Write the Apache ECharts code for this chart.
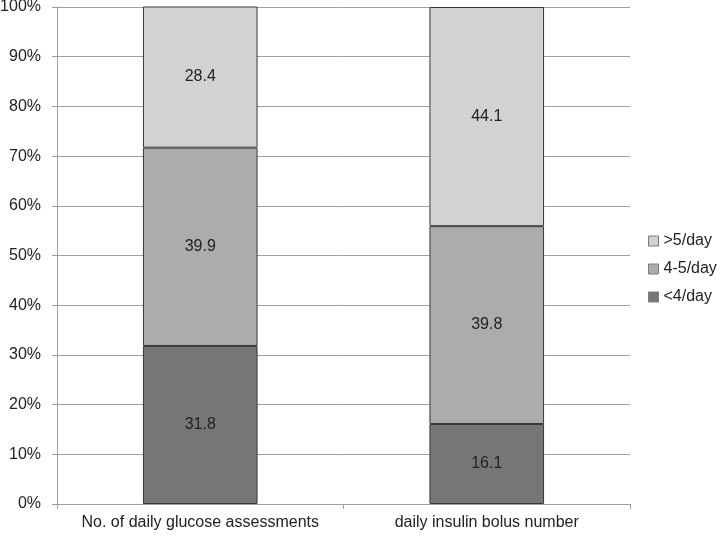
<!DOCTYPE html>
<html>
<head>
<meta charset="utf-8">
<script src="https://cdn.jsdelivr.net/npm/echarts@6/dist/echarts.min.js"></script>
<style>
  html, body { margin: 0; padding: 0; background: #fff; }
  #chart { width: 722px; height: 538px; }
</style>
</head>
<body>
<div id="chart"></div>
<script>
const categories = ['No. of daily glucose assessments', 'daily insulin bolus number']
const lowValues = [31.8, 16.1]
const midValues = [39.9, 39.8]
const highValues = [28.4, 44.1]
const seriesNames = ['<4/day', '4-5/day', '>5/day']

const font = 'Liberation Sans'
const chart = echarts.init(document.getElementById('chart'))

function barSeries(name, data, color) {
  return {
    name: name,
    type: 'bar',
    stack: 'total',
    barWidth: '40%',
    data: data,
    itemStyle: { color: color, borderColor: '#383838', borderWidth: 1 },
    label: {
      show: true,
      position: 'inside',
      color: '#222',
      fontFamily: font,
      fontSize: 16,
      formatter: p => p.value.toFixed(1)
    }
  }
}

chart.setOption({
  animation: false,
  textStyle: { fontFamily: font },
  legend: {
    orient: 'vertical',
    left: 643,
    top: 'middle',
    icon: 'rect',
    itemWidth: 10,
    itemHeight: 10,
    itemGap: 10,
    data: ['>5/day', '4-5/day', '<4/day'],
    textStyle: { fontSize: 16, color: '#222', fontFamily: font, lineHeight: 18 },
    itemStyle: { borderColor: '#7a7a7a', borderWidth: 1 }
  },
  grid: { left: 57, right: 92, top: 7, bottom: 34, outerBoundsMode: 'none', containLabel: false },
  xAxis: {
    type: 'category',
    data: categories,
    axisLine: { lineStyle: { color: '#a0a0a0' } },
    axisTick: { show: true, length: 5, lineStyle: { color: '#a0a0a0' } },
    axisLabel: { interval: 0, color: '#222', fontSize: 16, margin: 11, fontFamily: font }
  },
  yAxis: {
    type: 'value',
    min: 0,
    max: 100,
    interval: 10,
    axisLine: { show: true, lineStyle: { color: '#a0a0a0' } },
    axisTick: { show: true, length: 5, lineStyle: { color: '#a0a0a0' } },
    splitLine: { lineStyle: { color: '#a0a0a0' } },
    axisLabel: { formatter: '{value}%', color: '#222', fontSize: 16, margin: 16, fontFamily: font }
  },
  series: [
    barSeries(seriesNames[0], lowValues, '#767676'),
    barSeries(seriesNames[1], midValues, '#acacac'),
    barSeries(seriesNames[2], highValues, '#d2d2d2')
  ]
})
</script>
</body>
</html>
